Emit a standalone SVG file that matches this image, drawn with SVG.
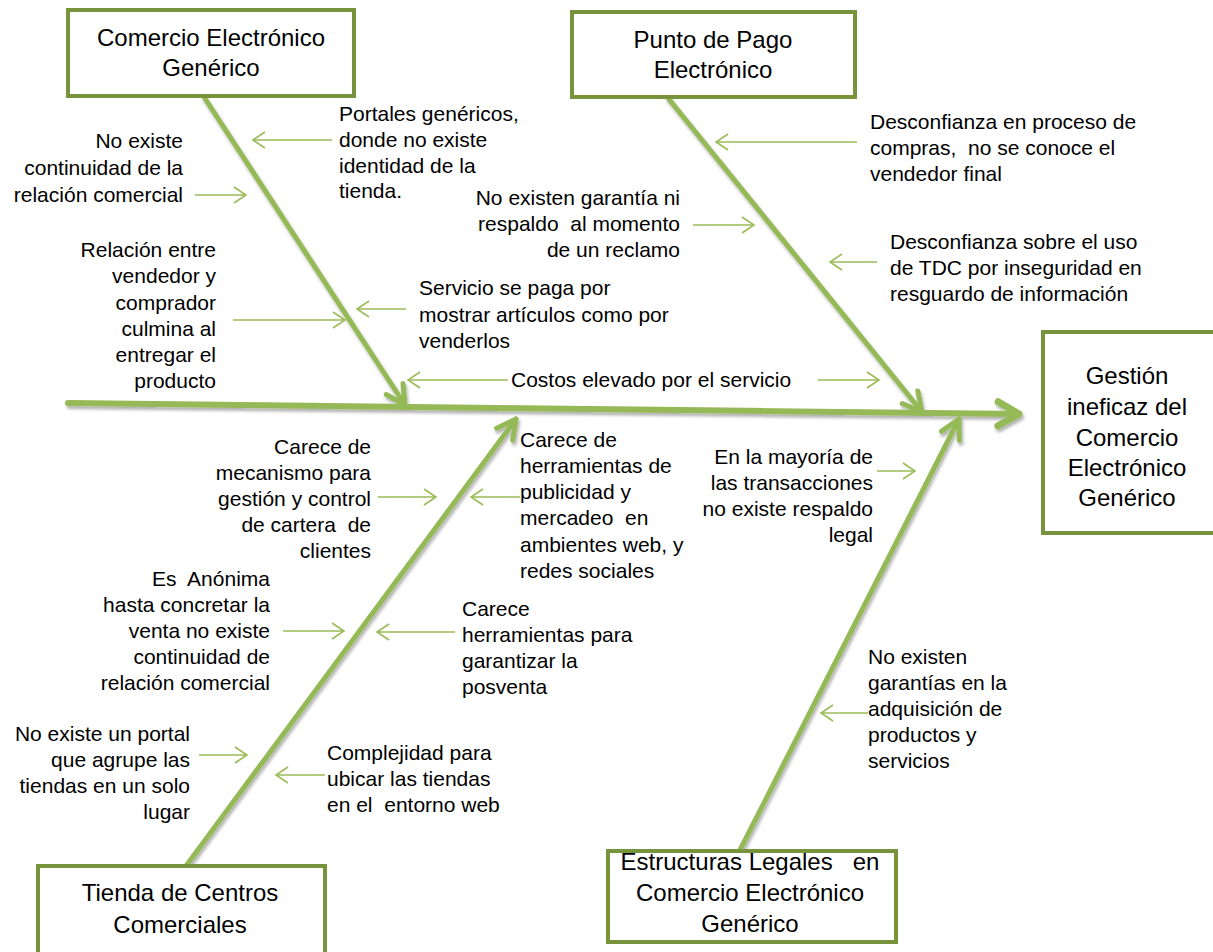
<svg xmlns="http://www.w3.org/2000/svg" width="1213" height="952" viewBox="0 0 1213 952">
<style>
  .box { fill: #ffffff; stroke: #77933C; stroke-width: 4; }
  .bt { font-family: "Liberation Sans", Arial, sans-serif; font-size: 24px; fill: #000; text-anchor: middle; }
  .t { font-family: "Liberation Sans", Arial, sans-serif; font-size: 21px; fill: #000; }
  .e { text-anchor: end; }
  .spine { stroke: #94B957; stroke-width: 6; fill: none; stroke-linecap: round; }
  .bone { stroke: #94B957; stroke-width: 5; fill: none; stroke-linecap: round; }
  .small { stroke: #9BBB59; stroke-width: 1.6; fill: none; }
</style>
<defs>
  <filter id="sh" x="-10%" y="-10%" width="120%" height="130%">
    <feDropShadow dx="1.5" dy="3" stdDeviation="1.8" flood-color="#000" flood-opacity="0.3"/>
  </filter>
  <marker id="ms" markerUnits="userSpaceOnUse" orient="auto" refX="0" refY="0" markerWidth="30" markerHeight="30" overflow="visible">
    <path d="M-12,-8 L0,0 L-12,8" fill="none" stroke="#9BBB59" stroke-width="1.6" stroke-linejoin="miter"/>
  </marker>
  <marker id="mb" markerUnits="userSpaceOnUse" orient="auto" refX="0" refY="0" markerWidth="40" markerHeight="40" overflow="visible">
    <path d="M-19,-10 L0,0 L-19,10" fill="none" stroke="#94B957" stroke-width="5" stroke-linecap="round" stroke-linejoin="round"/>
  </marker>
  <marker id="mm" markerUnits="userSpaceOnUse" orient="auto" refX="0" refY="0" markerWidth="50" markerHeight="50" overflow="visible">
    <path d="M-21,-12 L0,0 L-21,12" fill="none" stroke="#94B957" stroke-width="7" stroke-linecap="round" stroke-linejoin="round"/>
  </marker>
</defs>

<g id="connectors">
  <g filter="url(#sh)">
    <line class="spine" x1="68" y1="403" x2="1019" y2="414" marker-end="url(#mm)"/>
    <line class="bone" x1="204" y1="97" x2="405" y2="405" marker-end="url(#mb)"/>
    <line class="bone" x1="668" y1="98" x2="922" y2="412" marker-end="url(#mb)"/>
    <line class="bone" x1="186" y1="866" x2="516" y2="419" marker-end="url(#mb)"/>
    <line class="bone" x1="740" y1="850" x2="959" y2="419" marker-end="url(#mb)"/>
  </g>
  <line class="small" x1="332" y1="140" x2="253" y2="140" marker-end="url(#ms)"/>
  <line class="small" x1="195" y1="195" x2="246" y2="195" marker-end="url(#ms)"/>
  <line class="small" x1="233" y1="320" x2="345" y2="320" marker-end="url(#ms)"/>
  <line class="small" x1="406" y1="309" x2="357" y2="309" marker-end="url(#ms)"/>
  <line class="small" x1="508" y1="380" x2="408" y2="380" marker-end="url(#ms)"/>
  <line class="small" x1="818" y1="380" x2="879" y2="380" marker-end="url(#ms)"/>
  <line class="small" x1="857" y1="142" x2="716" y2="142" marker-end="url(#ms)"/>
  <line class="small" x1="693" y1="225" x2="754" y2="225" marker-end="url(#ms)"/>
  <line class="small" x1="877" y1="262" x2="830" y2="262" marker-end="url(#ms)"/>
  <line class="small" x1="378" y1="497" x2="436" y2="497" marker-end="url(#ms)"/>
  <line class="small" x1="520" y1="497" x2="471" y2="497" marker-end="url(#ms)"/>
  <line class="small" x1="283" y1="631" x2="344" y2="631" marker-end="url(#ms)"/>
  <line class="small" x1="455" y1="632" x2="377" y2="632" marker-end="url(#ms)"/>
  <line class="small" x1="199" y1="755" x2="247" y2="755" marker-end="url(#ms)"/>
  <line class="small" x1="325" y1="775" x2="276" y2="775" marker-end="url(#ms)"/>
  <line class="small" x1="877" y1="471" x2="915" y2="471" marker-end="url(#ms)"/>
  <line class="small" x1="868" y1="713" x2="821" y2="713" marker-end="url(#ms)"/>
</g>

<g id="node-comercio">
  <rect class="box" x="68" y="10" width="286" height="86"/>
  <text class="bt" x="211" y="46">Comercio Electrónico</text>
  <text class="bt" x="211" y="76">Genérico</text>
</g>
<g id="node-punto-pago">
  <rect class="box" x="572" y="12" width="283" height="85"/>
  <text class="bt" x="713" y="48">Punto de Pago</text>
  <text class="bt" x="713" y="78">Electrónico</text>
</g>
<g id="node-gestion">
  <rect class="box" x="1043" y="332" width="180" height="201"/>
  <text class="bt" x="1127" y="384">Gestión</text>
  <text class="bt" x="1127" y="415">ineficaz del</text>
  <text class="bt" x="1127" y="446">Comercio</text>
  <text class="bt" x="1127" y="476">Electrónico</text>
  <text class="bt" x="1127" y="506">Genérico</text>
</g>
<g id="node-tienda">
  <rect class="box" x="38" y="866" width="287" height="95"/>
  <text class="bt" x="180" y="901">Tienda de Centros</text>
  <text class="bt" x="180" y="933">Comerciales</text>
</g>
<g id="node-estructuras">
  <rect class="box" x="608" y="851" width="288" height="91"/>
  <text class="bt" x="750" y="870" xml:space="preserve">Estructuras Legales   en</text>
  <text class="bt" x="750" y="901">Comercio Electrónico</text>
  <text class="bt" x="750" y="932">Genérico</text>
</g>

<g id="labels">
  <text class="t" x="339" y="121">Portales genéricos,</text>
  <text class="t" x="339" y="147">donde no existe</text>
  <text class="t" x="339" y="173">identidad de la</text>
  <text class="t" x="339" y="198">tienda.</text>

  <text class="t e" x="183" y="148">No existe</text>
  <text class="t e" x="183" y="175">continuidad de la</text>
  <text class="t e" x="183" y="202">relación comercial</text>

  <text class="t e" x="216" y="257">Relación entre</text>
  <text class="t e" x="216" y="283">vendedor y</text>
  <text class="t e" x="216" y="310">comprador</text>
  <text class="t e" x="216" y="336">culmina al</text>
  <text class="t e" x="216" y="362">entregar el</text>
  <text class="t e" x="216" y="388">producto</text>

  <text class="t" x="419" y="295">Servicio se paga por</text>
  <text class="t" x="419" y="322">mostrar artículos como por</text>
  <text class="t" x="419" y="348">venderlos</text>

  <text class="t" x="511" y="387">Costos elevado por el servicio</text>

  <text class="t e" x="680" y="205">No existen garantía ni</text>
  <text class="t e" x="680" y="231" xml:space="preserve">respaldo  al momento</text>
  <text class="t e" x="680" y="257">de un reclamo</text>

  <text class="t" x="870" y="129">Desconfianza en proceso de</text>
  <text class="t" x="870" y="155" xml:space="preserve">compras,  no se conoce el</text>
  <text class="t" x="870" y="181">vendedor final</text>

  <text class="t" x="890" y="249">Desconfianza sobre el uso</text>
  <text class="t" x="890" y="275">de TDC por inseguridad en</text>
  <text class="t" x="890" y="301">resguardo de información</text>

  <text class="t e" x="371" y="454">Carece de</text>
  <text class="t e" x="371" y="480">mecanismo para</text>
  <text class="t e" x="371" y="506">gestión y control</text>
  <text class="t e" x="371" y="532" xml:space="preserve">de cartera  de</text>
  <text class="t e" x="371" y="558">clientes</text>

  <text class="t" x="520" y="447">Carece de</text>
  <text class="t" x="520" y="473">herramientas de</text>
  <text class="t" x="520" y="499">publicidad y</text>
  <text class="t" x="520" y="525" xml:space="preserve">mercadeo  en</text>
  <text class="t" x="520" y="552">ambientes web, y</text>
  <text class="t" x="520" y="578">redes sociales</text>

  <text class="t e" x="270" y="586" xml:space="preserve">Es  Anónima</text>
  <text class="t e" x="270" y="612">hasta concretar la</text>
  <text class="t e" x="270" y="638">venta no existe</text>
  <text class="t e" x="270" y="664">continuidad de</text>
  <text class="t e" x="270" y="690">relación comercial</text>

  <text class="t" x="462" y="616">Carece</text>
  <text class="t" x="462" y="642">herramientas para</text>
  <text class="t" x="462" y="668">garantizar la</text>
  <text class="t" x="462" y="694">posventa</text>

  <text class="t e" x="190" y="741">No existe un portal</text>
  <text class="t e" x="190" y="767">que agrupe las</text>
  <text class="t e" x="190" y="793">tiendas en un solo</text>
  <text class="t e" x="190" y="819">lugar</text>

  <text class="t" x="327" y="760">Complejidad para</text>
  <text class="t" x="327" y="786">ubicar las tiendas</text>
  <text class="t" x="327" y="812" xml:space="preserve">en el  entorno web</text>

  <text class="t e" x="873" y="464">En la mayoría de</text>
  <text class="t e" x="873" y="490">las transacciones</text>
  <text class="t e" x="873" y="516">no existe respaldo</text>
  <text class="t e" x="873" y="542">legal</text>

  <text class="t" x="868" y="664">No existen</text>
  <text class="t" x="868" y="690">garantías en la</text>
  <text class="t" x="868" y="716">adquisición de</text>
  <text class="t" x="868" y="742">productos y</text>
  <text class="t" x="868" y="768">servicios</text>
</g>
</svg>
